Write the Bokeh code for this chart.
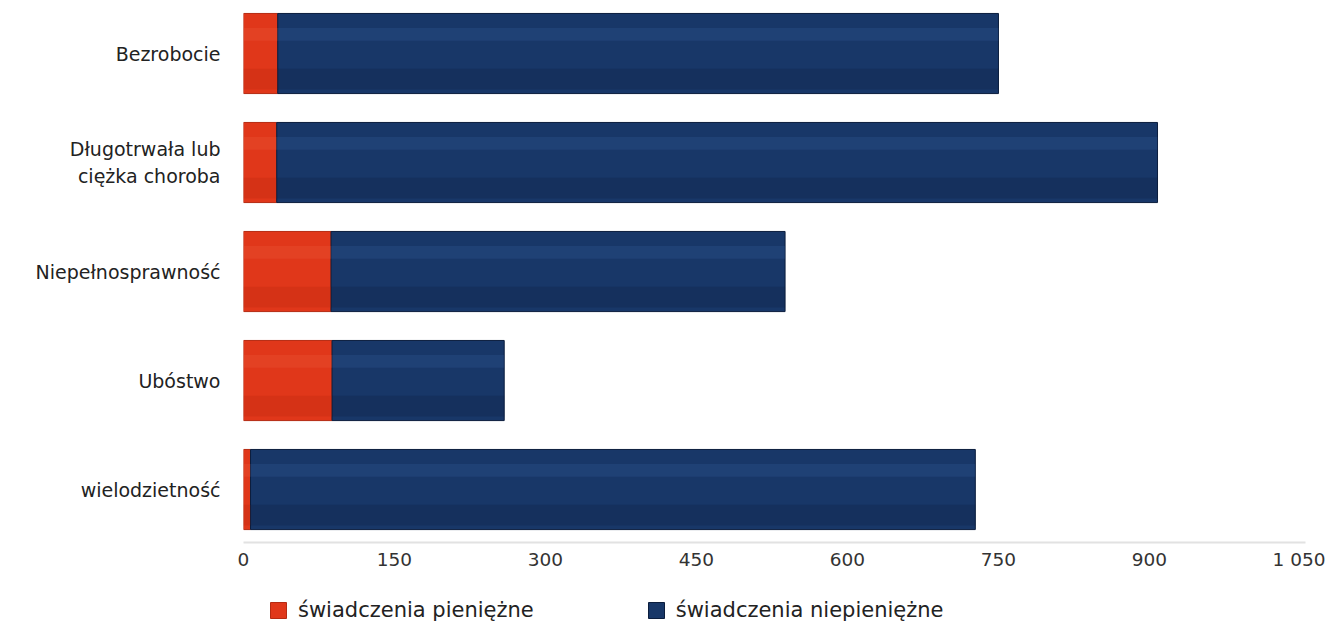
from bokeh.plotting import figure
from bokeh.models import Range1d, FixedTicker, Legend, LegendItem
from bokeh.layouts import column
from bokeh.embed import file_html
from bokeh.resources import INLINE

categories = ["Bezrobocie", "Długotrwała lub\nciężka choroba", "Niepełnosprawność", "Ubóstwo", "wielodzietność"]
pieniezne = [34, 33, 87, 88, 7]
niepieniezne = [716, 875, 451, 171, 720]
x_ticks = [0, 150, 300, 450, 600, 750, 900, 1050]
x_tick_labels = ["0", "150", "300", "450", "600", "750", "900", "1 050"]
series_names = ["świadczenia pieniężne", "świadczenia niepieniężne"]

n = len(categories)
ypos = [n - 1 - i for i in range(n)]
red_right = pieniezne
blue_left = pieniezne
blue_right = [a + b for a, b in zip(pieniezne, niepieniezne)]

FONT = "DejaVu Sans"
RED = "#e0371a"
BLUE = "#183768"

p = figure(width=1325, height=576, output_backend="svg", toolbar_location=None,
           x_range=Range1d(0, 1055), y_range=Range1d(-0.486, 4.413),
           min_border_left=243, min_border_right=20, min_border_top=8, min_border_bottom=34)
p.outline_line_color = None
p.xgrid.visible = False
p.ygrid.visible = False
p.background_fill_color = "white"
p.border_fill_color = "white"

H = 0.735
p.hbar(y=ypos, left=0, right=red_right, height=H, fill_color=RED,
       line_color="#b52a12", line_width=1)
p.hbar(y=ypos, left=blue_left, right=blue_right, height=H, fill_color=BLUE,
       line_color="#0b1d3d", line_width=1)
# glossy shading
p.hbar(y=[y + H * 0.24 for y in ypos], left=0, right=red_right, height=H * 0.16,
       fill_color="#f06a4a", fill_alpha=0.2, line_color=None)
p.hbar(y=[y + H * 0.24 for y in ypos], left=blue_left, right=blue_right, height=H * 0.16,
       fill_color="#3a6aa8", fill_alpha=0.2, line_color=None)
p.hbar(y=[y - H * 0.32 for y in ypos], left=blue_left, right=blue_right, height=H * 0.26,
       fill_color="#0a1c3a", fill_alpha=0.25, line_color=None)
p.hbar(y=[y - H * 0.32 for y in ypos], left=0, right=red_right, height=H * 0.26,
       fill_color="#a81d0a", fill_alpha=0.2, line_color=None)

# x axis
xa = p.xaxis[0]
xa.ticker = FixedTicker(ticks=x_ticks)
xa.major_label_overrides = {t: l for t, l in zip(x_ticks, x_tick_labels)}
xa.axis_line_color = "#e2e2e2"
xa.axis_line_width = 2
xa.major_tick_line_color = None
xa.minor_tick_line_color = None
xa.major_tick_out = 0
xa.major_label_standoff = 6
xa.major_label_text_font = FONT
xa.major_label_text_font_size = "18.5px"
xa.major_label_text_color = "#333333"

# y axis
ya = p.yaxis[0]
ya.ticker = FixedTicker(ticks=ypos)
ya.major_label_overrides = {y: c for y, c in zip(ypos, categories)}
ya.axis_line_color = None
ya.major_tick_line_color = None
ya.minor_tick_line_color = None
ya.major_tick_out = 0
ya.major_label_standoff = 23
ya.major_label_text_font = FONT
ya.major_label_text_font_size = "19px"
ya.major_label_text_color = "#222222"

# legend figure (proxy renderers kept outside its visible range)
p2 = figure(width=1325, height=46, output_backend="svg", toolbar_location=None,
            x_range=Range1d(0, 1), y_range=Range1d(0, 1), min_border=0,
            x_axis_location=None, y_axis_location=None)
p2.outline_line_color = None
p2.xgrid.visible = False
p2.ygrid.visible = False
lr = p2.quad(left=[-10], right=[-9], bottom=[-10], top=[-9], fill_color=RED, line_color="#b52a12")
lb = p2.quad(left=[-10], right=[-9], bottom=[-10], top=[-9], fill_color=BLUE, line_color="#0b1d3d")
legend = Legend(items=[LegendItem(label=series_names[0], renderers=[lr]),
                       LegendItem(label=series_names[1], renderers=[lb])],
                orientation="horizontal", location=(25, 0),
                padding=0, margin=0, spacing=112, label_standoff=10,
                glyph_width=20, glyph_height=20,
                label_text_font=FONT, label_text_font_size="21px",
                label_text_color="#222222", border_line_color=None,
                background_fill_alpha=0)
p2.add_layout(legend, "center")

open("out.html", "w").write(file_html(column(p, p2), INLINE))
